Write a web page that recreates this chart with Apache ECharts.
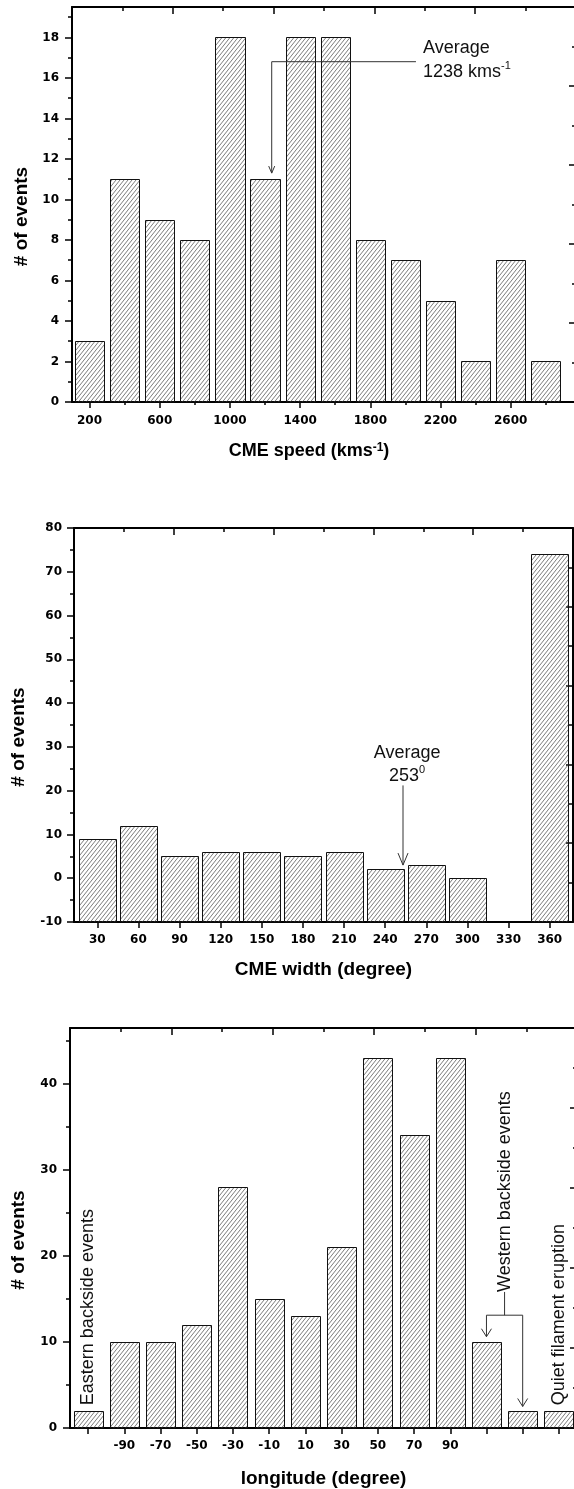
<!DOCTYPE html>
<html>
<head>
<meta charset="utf-8">
<script src="https://cdn.jsdelivr.net/npm/echarts@6/dist/echarts.min.js"></script>
<style>
  html, body { margin: 0; padding: 0; background: #fff; overflow: hidden; }
  #chart { width: 600px; height: 1489px; }
</style>
</head>
<body>
<div id="chart"></div>
<script>
// ---- CME speed distribution ----
const speedBins = [200, 400, 600, 800, 1000, 1200, 1400, 1600, 1800, 2000, 2200, 2400, 2600, 2800];
const speedCounts = [3, 11, 9, 8, 18, 11, 18, 18, 8, 7, 5, 2, 7, 2];
const speedTickLabels = [200, 600, 1000, 1400, 1800, 2200, 2600];
const speedMinorTicks = [400, 800, 1200, 1600, 2000, 2400, 2800];
const speedCountTicks = [0, 2, 4, 6, 8, 10, 12, 14, 16, 18];
const speedCountMinor = [1, 3, 5, 7, 9, 11, 13, 15, 17, 19];
const speedAverage = 1238;

// ---- CME width distribution ----
const widthBins = [30, 60, 90, 120, 150, 180, 210, 240, 270, 300, 330, 360];
const widthCounts = [9, 12, 5, 6, 6, 5, 6, 2, 3, 0, null, 74];
const widthAverage = 253;

// ---- Source longitude distribution ----
const lonLabels = ['', '-90', '-70', '-50', '-30', '-10', '10', '30', '50', '70', '90', '', '', ''];
const lonCounts = [2, 10, 10, 12, 28, 15, 13, 21, 43, 34, 43, 10, 2, 2];
const lonCountTicks = [0, 10, 20, 30, 40];
const lonCountMinor = [5, 15, 25, 35, 45];

// diagonal hatch used to fill every bar
function makeHatch() {
  const w = 4, h = 5;
  const c = document.createElement('canvas');
  c.width = w; c.height = h;
  const g = c.getContext('2d');
  g.strokeStyle = '#5a5a5a';
  g.lineWidth = 0.8;
  for (let k = -1; k <= 1; k++) {
    g.beginPath();
    g.moveTo(-w + k * w, 2 * h);
    g.lineTo(2 * w + k * w, -h);
    g.stroke();
  }
  return { image: c, repeat: 'repeat' };
}
const hatch = makeHatch();

const TICK_FONT = { fontFamily: 'DejaVu Sans', fontWeight: 'bold', fontSize: 12, color: '#000' };
const NAME_FONT = { fontFamily: 'Liberation Sans', fontWeight: 'bold', fontSize: 19, color: '#000' };
const NOTE_FONT = 'Liberation Sans';
const NOTE_COLOR = '#111';
const LINE = { color: '#000', width: 2 };
const TICK_LINE = { color: '#000', width: 1.5 };
const plain = v => String(v);

// axis carrying labels / ticks at explicit values
function valueAxis(gridIndex, position, min, max, ticks, tickLen, labels, margin, extra) {
  return Object.assign({
    type: 'value', gridIndex, position, min, max,
    axisLine: { show: labels, onZero: false, lineStyle: LINE },
    axisTick: { show: true, length: tickLen, customValues: ticks, lineStyle: TICK_LINE },
    axisLabel: labels ? Object.assign({ show: true, margin, customValues: ticks, formatter: plain }, TICK_FONT) : { show: false },
    splitLine: { show: false },
    minorTick: { show: false },
    silent: true
  }, extra || {});
}

// opposite frame side with inward ticks
function frameAxis(gridIndex, position, max, interval) {
  return {
    type: 'value', gridIndex, position, min: 0, max, interval,
    axisLine: { show: true, onZero: false, lineStyle: LINE },
    axisTick: { show: true, inside: true, length: 7, lineStyle: TICK_LINE },
    minorTick: { show: true, splitNumber: 2, length: 4, lineStyle: TICK_LINE },
    axisLabel: { show: false },
    splitLine: { show: false },
    minorSplitLine: { show: false },
    silent: true
  };
}

function xName(text, gap, extra) {
  return {
    name: text, nameLocation: 'middle', nameGap: gap,
    nameTextStyle: Object.assign({}, NAME_FONT, extra || {})
  };
}
function yName(gap) {
  return {
    name: '# of events', nameLocation: 'middle', nameGap: gap,
    nameTextStyle: Object.assign({}, NAME_FONT, { padding: [0, 24, 0, 0] })
  };
}

// hatched bar from baseValue up to the count
function barRenderer(baseValue, binSize, ratio) {
  return function (params, api) {
    const v = api.value(1);
    if (v == null || isNaN(v)) return null;
    const x = api.value(0);
    const top = api.coord([x, v]);
    const bottom = api.coord([x, baseValue]);
    const w = api.size([binSize, 0])[0] * ratio;
    const x0 = Math.round(top[0] - w / 2) + 0.5;
    const x1 = Math.round(top[0] + w / 2) + 0.5;
    const y0 = Math.round(top[1]) + 0.5;
    const y1 = Math.round(bottom[1]);
    return {
      type: 'rect',
      shape: { x: x0, y: y0, width: x1 - x0, height: y1 - y0 },
      style: { fill: hatch, stroke: '#111', lineWidth: 1 }
    };
  };
}

function vHead(tip, hw, hl) {
  return {
    type: 'polyline',
    shape: { points: [[tip[0] - hw, tip[1] - hl], [tip[0], tip[1]], [tip[0] + hw, tip[1] - hl]] },
    style: { stroke: '#333', lineWidth: 1, fill: null }
  };
}
function seg(points) {
  return { type: 'polyline', shape: { points }, style: { stroke: '#333', lineWidth: 1, fill: null } };
}
function noteText(pos, text, align, rotation, rich) {
  const el = {
    type: 'text', x: pos[0], y: pos[1],
    style: {
      text, fill: NOTE_COLOR,
      fontFamily: NOTE_FONT, fontSize: 18,
      align, verticalAlign: 'middle'
    }
  };
  if (rotation) el.rotation = rotation;
  if (rich) el.style.rich = rich;
  return el;
}
const SUP_RICH = {
  m: { fontFamily: NOTE_FONT, fontSize: 18, lineHeight: 20, verticalAlign: 'bottom', fill: NOTE_COLOR },
  s: { fontFamily: NOTE_FONT, fontSize: 11, lineHeight: 11, verticalAlign: 'top', fill: NOTE_COLOR }
};

// annotation: average speed
function speedNote(params, api) {
  const elbow = api.coord([speedAverage, 16.8]);
  const tip = api.coord([speedAverage, 11.3]);
  const end = api.coord([2060, 16.8]);
  const t1 = api.coord([2100, 17.45]);
  const t2 = api.coord([2100, 16.35]);
  return {
    type: 'group',
    children: [
      seg([[end[0], elbow[1]], [elbow[0], elbow[1]], [tip[0], tip[1]]]),
      vHead(tip, 3, 7),
      noteText(t1, 'Average', 'left'),
      noteText(t2, '{m|1238 kms}{s|-1}', 'left', 0, SUP_RICH)
    ]
  };
}

// annotation: average width
function widthNote(params, api) {
  const start = api.coord([widthAverage, 21.2]);
  const tip = api.coord([widthAverage, 3.0]);
  const t1 = api.coord([widthAverage + 3, 28.6]);
  const t2 = api.coord([widthAverage + 3, 23.6]);
  return {
    type: 'group',
    children: [
      seg([start, tip]),
      vHead(tip, 5, 12),
      noteText(t1, 'Average', 'center'),
      noteText(t2, '{m|253}{s|0}', 'center', 0, SUP_RICH)
    ]
  };
}

// annotation: backside events and quiet filament eruption
function lonNote(params, api) {
  const rot = Math.PI / 2;
  const east = api.coord([0, 2.65]);
  const quiet = api.coord([13, 2.65]);
  const w1 = api.coord([11, 13.1]);
  const w2 = api.coord([12, 13.1]);
  const mid = (w1[0] + w2[0]) / 2;
  const wText = [mid, api.coord([11, 15.8])[1]];
  const tip1 = api.coord([11, 10.6]);
  const tip2 = api.coord([12, 2.5]);
  return {
    type: 'group',
    children: [
      noteText(east, 'Eastern backside events', 'left', rot),
      noteText(quiet, 'Quiet filament eruption', 'left', rot),
      noteText(wText, 'Western backside events', 'left', rot),
      seg([wText, [mid, w1[1]]]),
      seg([tip1, [w1[0], w1[1]], [w2[0], w2[1]], tip2]),
      vHead(tip1, 5, 8),
      vHead(tip2, 5, 8)
    ]
  };
}

const option = {
  animation: false,
  backgroundColor: '#fff',
  grid: [
    { left: 72, top: 7, width: 504, height: 395 },
    { left: 74, top: 528, width: 499, height: 394 },
    { left: 70, top: 1028, width: 507, height: 402 }
  ],
  xAxis: [
    // speed
    valueAxis(0, 'bottom', 100, 2972, speedTickLabels, 6, true, 13,
      xName('CME speed (kms{s|-1})', 40, {
        fontSize: 18,
        padding: [0, 30, 0, 0],
        rich: { s: { fontFamily: 'Liberation Sans', fontWeight: 'bold', fontSize: 12, verticalAlign: 'top', lineHeight: 10 } }
      })),
    valueAxis(0, 'bottom', 100, 2972, speedMinorTicks, 3, false, 0),
    frameAxis(0, 'top', 10, 2),
    // width
    valueAxis(1, 'bottom', 13, 377, widthBins, 6, true, 12, xName('CME width (degree)', 38)),
    frameAxis(1, 'top', 10, 2),
    // longitude
    Object.assign({
      type: 'category', gridIndex: 2, position: 'bottom', data: lonLabels,
      axisLine: { show: true, onZero: false, lineStyle: LINE },
      axisTick: { show: true, alignWithLabel: true, interval: 0, length: 6, lineStyle: TICK_LINE },
      axisLabel: Object.assign({ show: true, interval: 0, margin: 12 }, TICK_FONT),
      splitLine: { show: false },
      silent: true
    }, xName('longitude (degree)', 41)),
    frameAxis(2, 'top', 10, 2)
  ],
  yAxis: [
    // speed
    valueAxis(0, 'left', 0, 19.5, speedCountTicks, 7, true, 13, yName(36)),
    valueAxis(0, 'left', 0, 19.5, speedCountMinor, 4, false, 0),
    frameAxis(0, 'right', 5, 1),
    // width
    {
      type: 'value', gridIndex: 1, position: 'left', min: -10, max: 80, interval: 10,
      axisLine: { show: true, onZero: false, lineStyle: LINE },
      axisTick: { show: true, length: 7, lineStyle: TICK_LINE },
      minorTick: { show: true, splitNumber: 2, length: 4, lineStyle: TICK_LINE },
      axisLabel: Object.assign({ show: true, margin: 12 }, TICK_FONT),
      splitLine: { show: false }, minorSplitLine: { show: false },
      silent: true,
      name: '# of events', nameLocation: 'middle', nameGap: 46,
      nameTextStyle: Object.assign({}, NAME_FONT, { padding: [0, 24, 0, 0] })
    },
    frameAxis(1, 'right', 10, 2),
    // longitude
    valueAxis(2, 'left', 0, 46.45, lonCountTicks, 7, true, 13, yName(42)),
    valueAxis(2, 'left', 0, 46.45, lonCountMinor, 4, false, 0),
    frameAxis(2, 'right', 10, 2)
  ],
  series: [
    {
      type: 'custom', xAxisIndex: 0, yAxisIndex: 0, silent: true,
      renderItem: barRenderer(0, 200, 0.83),
      data: speedBins.map((b, i) => [b, speedCounts[i]])
    },
    {
      type: 'custom', xAxisIndex: 0, yAxisIndex: 0, silent: true, z: 5,
      renderItem: speedNote, data: [[speedAverage, 0]]
    },
    {
      type: 'custom', xAxisIndex: 3, yAxisIndex: 3, silent: true,
      renderItem: barRenderer(-10, 30, 0.9),
      data: widthBins.map((b, i) => [b, widthCounts[i]]).filter(d => d[1] != null)
    },
    {
      type: 'custom', xAxisIndex: 3, yAxisIndex: 3, silent: true, z: 5,
      renderItem: widthNote, data: [[widthAverage, 0]]
    },
    {
      type: 'custom', xAxisIndex: 5, yAxisIndex: 5, silent: true,
      renderItem: barRenderer(0, 1, 0.8),
      data: lonCounts.map((v, i) => [i, v])
    },
    {
      type: 'custom', xAxisIndex: 5, yAxisIndex: 5, silent: true, z: 5,
      renderItem: lonNote, data: [[0, 0]]
    }
  ]
};

const chart = echarts.init(document.getElementById('chart'));
chart.setOption(option);
</script>
</body>
</html>
